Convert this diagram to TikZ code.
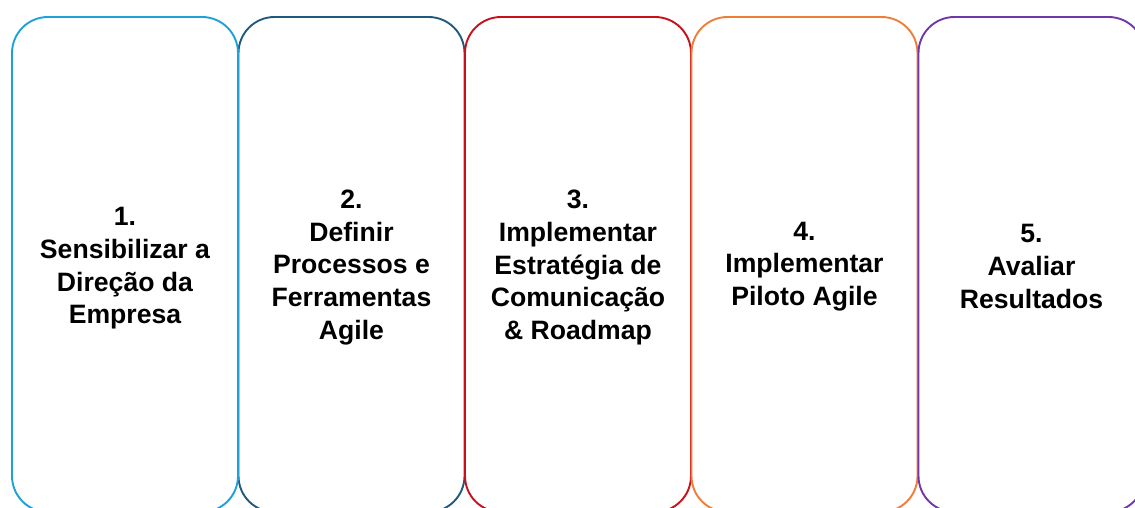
\documentclass[tikz,border=0pt]{standalone}
\usepackage{fontspec}
\setmainfont{Liberation Sans}
\definecolor{stepA}{HTML}{1DA2D8}
\definecolor{stepB}{HTML}{1F5A7D}
\definecolor{stepC}{HTML}{C8101A}
\definecolor{stepD}{HTML}{EE7D38}
\definecolor{stepE}{HTML}{7136A8}
\begin{document}
\begin{tikzpicture}[x=1pt,y=-1pt,
  phase/.style={draw=#1, line width=1.9pt, fill=none, rounded corners=36pt,
    minimum width=226pt, minimum height=495pt, inner sep=0pt},
  caption/.style={align=center, inner sep=0pt, text=black,
    font=\fontsize{26.6}{32.6}\selectfont\bfseries}]
\useasboundingbox (0,0) rectangle (1135,507);
\clip (0,0) rectangle (1135,507);
% the second panel sits beneath the first, the rest overlap left to right
\node[phase=stepB] (p2) at (351.5,264.5) {};
\node[phase=stepA] (p1) at (125,264.5) {};
\node[phase=stepC] (p3) at (578,264.5) {};
\node[phase=stepD] (p4) at (804.5,264.5) {};
\node[phase=stepE] (p5) at (1031.5,264.5) {};
% step captions
\node[caption] (t1) at ([yshift=-4pt]p1.center) {1.\\Sensibilizar a\\Direção da\\Empresa};
\node[caption] (t2) at ([yshift=-3pt]p2.center) {2.\\Definir\\Processos e\\Ferramentas\\Agile};
\node[caption] (t3) at ([yshift=-3pt]p3.center) {3.\\Implementar\\Estratégia de\\Comunicação\\\& Roadmap};
\node[caption] (t4) at ([yshift=-2pt]p4.center) {4.\\Implementar\\Piloto Agile};
\node[caption] (t5) at ([yshift=-2pt]p5.center) {5.\\Avaliar\\Resultados};
\end{tikzpicture}
\end{document}
